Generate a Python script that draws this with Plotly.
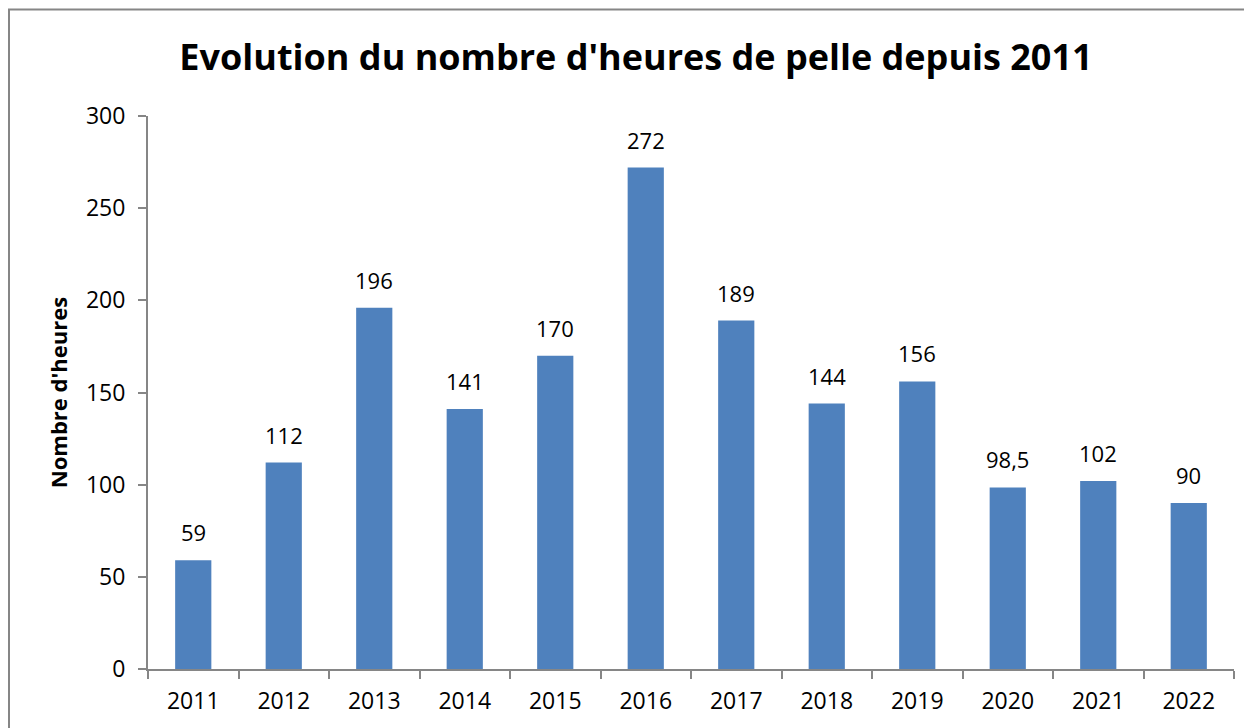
import plotly.graph_objects as go

years = ["2011", "2012", "2013", "2014", "2015", "2016", "2017", "2018", "2019", "2020", "2021", "2022"]
hours = [59, 112, 196, 141, 170, 272, 189, 144, 156, 98.5, 102, 90]
y_ticks = [0, 50, 100, 150, 200, 250, 300]

labels = [(f"{v:g}").replace(".", ",") for v in hours]

FONT = "Open Sans"
GRAY = "#868686"

fig = go.Figure()
fig.add_trace(go.Bar(
    x=years, y=hours,
    marker=dict(color="#4F81BD", line=dict(color="#4F81BD", width=0)),
))
for i, (v, lab) in enumerate(zip(hours, labels)):
    fig.add_annotation(x=i, y=v, xref="x", yref="y", text=lab, showarrow=False,
                       yanchor="bottom", yshift=11,
                       font=dict(family=FONT, size=22, color="black"))

# page body has an 8px margin: figure origin sits at (8, 8)
W, H = 1244, 720
L, R, T, B = 140, 18, 108, 59
pw, ph = W - L - R, H - T - B

fig.update_layout(
    width=W, height=H,
    margin=dict(l=L, r=R, t=T, b=B, autoexpand=False),
    paper_bgcolor="white", plot_bgcolor="white",
    bargap=0.6,
    showlegend=False,
    title=dict(text="<b>Evolution du nombre d'heures de pelle depuis 2011</b>",
               x=628 / W, xanchor="center", y=1 - 49 / H, yanchor="middle",
               font=dict(family=FONT, size=36, color="black")),
)
fig.update_xaxes(
    type="category", tickson="boundaries", showline=True, linecolor=GRAY, linewidth=2,
    ticks="outside", ticklen=8, tickcolor=GRAY, tickwidth=2, tickangle=0,
    tickfont=dict(family=FONT, size=23, color="black"), ticklabelstandoff=10,
    showgrid=False, zeroline=False, automargin=False, range=[-0.5, 11.5],
)
fig.update_yaxes(
    range=[0, 300], tickvals=y_ticks, showline=True, linecolor=GRAY, linewidth=2,
    ticks="outside", ticklen=8, tickcolor=GRAY, tickwidth=2,
    tickfont=dict(family=FONT, size=23, color="black"), ticklabelstandoff=8,
    showgrid=False, zeroline=False, automargin=False,
    title=dict(text="<b>Nombre d'heures</b>", font=dict(family=FONT, size=22, color="black"), standoff=12),
)

# outer chart border (extends past the right and bottom edges)
x0 = (1 - L) / pw
y1 = 1 + (T - 1.5) / ph
fig.add_shape(type="rect", xref="paper", yref="paper", x0=x0, x1=1.2, y0=-0.3, y1=y1,
              line=dict(color=GRAY, width=2), fillcolor="rgba(0,0,0,0)", layer="below")

fig.write_html("out.html")
